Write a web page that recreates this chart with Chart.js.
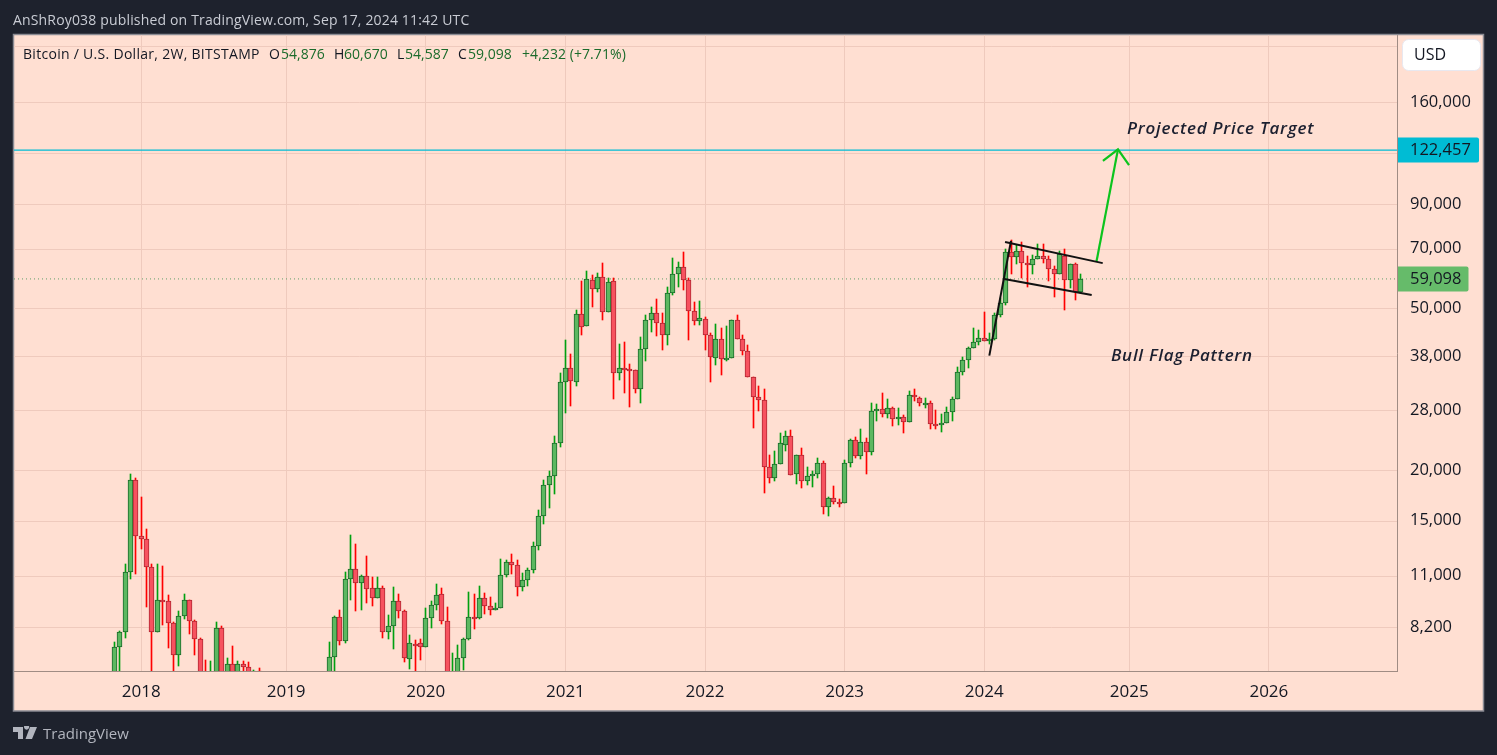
<!DOCTYPE html>
<html><head><meta charset="utf-8">
<script src="https://cdn.jsdelivr.net/npm/chart.js@4"></script>
<style>
html,body{margin:0;padding:0;background:#1e222d;width:1497px;height:755px;overflow:hidden}
canvas{position:absolute;left:0;top:0}
.t{position:absolute;white-space:nowrap;font-family:"Open Sans",sans-serif;line-height:18px}
</style></head><body>
<canvas id="c" width="1497" height="755"></canvas>
<div class="t" style="left:13px;top:11px;font-size:14px;letter-spacing:.165px;color:#c9ccd4">AnShRoy038 published on TradingView.com, Sep 17, 2024 11:42 UTC</div>
<div class="t" style="left:23px;top:45px;font-size:14px;letter-spacing:.29px;color:#131722">Bitcoin / U.S. Dollar, 2W, BITSTAMP</div>
<div class="t" style="left:269px;top:45px;font-size:14px;color:#131722">O</div>
<div class="t" style="left:281px;top:45px;font-size:14px;color:#1b6b2b">54,876</div>
<div class="t" style="left:334px;top:45px;font-size:14px;color:#131722">H</div>
<div class="t" style="left:344px;top:45px;font-size:14px;color:#1b6b2b">60,670</div>
<div class="t" style="left:397px;top:45px;font-size:14px;color:#131722">L</div>
<div class="t" style="left:405px;top:45px;font-size:14px;color:#1b6b2b">54,587</div>
<div class="t" style="left:458px;top:45px;font-size:14px;color:#131722">C</div>
<div class="t" style="left:468px;top:45px;font-size:14px;color:#1b6b2b">59,098</div>
<div class="t" style="left:522px;top:45px;font-size:14px;letter-spacing:.07px;color:#1b6b2b">+4,232 (+7.71%)</div>
<svg style="position:absolute;left:13px;top:726px" width="25" height="14" viewBox="0 0 25 14"><path fill="#b2b5be" d="M0 1h10v12H5V6H0zM11 1a2.6 2.6 0 1 1 0 .01zM17 1h7l-5 12h-6.5z"/></svg>
<div class="t" style="left:43px;top:724px;font-size:15px;color:#b2b5be">TradingView</div>
<script>
const opens=[5700,7350,8005,11242,18918,13819,13578,11593,8032,9594,9539,8417,7023,8756,9594,8517,7683,6300,6200,6350,8177,6350,6674,6350,6674,6557,6400,6415,
6300,5600,4000,3500,3800,3650,3450,3900,3850,4050,5300,5700,
6000,6941,8705,7603,10791,11416,10559,10983,10254,9723,10254,8032,8274,9539,9013,6870,7487,7517,7346,8653,9322,9923,8517,5400,6200,6900,7683,8705,8670,9723,9276,9065,9160,11048,11893,11690,10316,10742,11370,13008,15419,18381,19334,23326,32936,35620,32936,48385,45180,58660,55670,59640,48950,58320,34650,35620,35450,35250,31615,39650,46780,48660,45990,42970,54500,60680,63100,58660,49230,46520,47050,42970,37730,41950,37690,37780,46780,41990,39260,33850,30250,29760,20420,19180,20710,23070,24250,19570,21780,18810,19334,19570,20830,16220,17070,16700,16610,20830,23730,21730,23460,22160,27960,28280,27480,28450,26720,27030,26270,30600,30060,29250,29310,26020,25830,26120,27790,29930,34910,37300,39900,41310,42200,41550,41990,48100,51500,68740,67000,69130,64620,63890,66070,67430,66300,62440,60680,67430,58660,64290,54876];
const highs=[7575,8064,11778,19597,19150,17200,14340,11778,11778,11641,9885,8483,9030,9940,9594,8580,7745,6826,6800,8483,8290,6912,7400,6800,6800,6763,6460,6532,
6390,5700,4200,4200,4100,3700,4000,4100,4100,5400,5800,6400,
7574,8771,9080,11261,13880,13185,11070,12317,10936,10936,10394,8826,10334,9940,9080,7883,7660,7700,9177,9555,10517,10276,9230,7117,7445,7745,10055,9940,10394,9997,9767,9447,12100,12050,12463,12050,11197,11505,13340,15990,18950,19940,24295,34710,41850,38650,49590,58430,61840,60450,61140,64690,59430,59430,40900,41380,36525,35250,42530,48190,50400,52790,48750,56430,66500,65200,68850,59430,51890,52190,47660,43530,45800,44800,45340,46900,48190,43030,40680,33900,32240,31720,21830,22320,24730,25010,25150,21800,22700,20390,19940,21440,21100,17200,18320,17000,21220,23900,24170,25290,24040,29300,29140,31010,29980,28630,28450,27380,31360,31720,30320,30150,29640,28170,27540,28630,30320,35900,38000,40240,44780,44280,49030,43530,48750,53060,70030,73700,71700,72850,67300,67660,72030,72030,67300,63600,69250,70030,64400,64500,60670];
const lows=[5500,6100,7758,10830,11132,12829,9245,6000,8032,8352,7323,6400,6621,8617,7940,7047,6100,5800,6000,6100,6000,6250,6150,6250,6350,6200,6250,5900,
5100,3700,3200,3400,3500,3400,3350,3700,3800,4000,5000,5200,
5800,6300,7445,7530,9610,9030,9080,9447,9284,9723,7745,7700,7270,8671,6763,6507,6380,6840,7346,8194,9080,8386,4000,5100,5900,6470,7660,8143,8620,8875,8826,9065,9160,10936,11132,9825,10113,10394,11197,12750,14768,16160,17505,22800,27740,28800,32240,43040,45180,50400,54910,46860,48950,29930,33370,31010,28620,31010,29300,37160,43780,42780,39550,40700,53960,56430,55530,41850,45550,45550,39550,33000,36320,34320,37160,37700,41990,38430,33850,25420,28010,17610,18660,18840,20710,22320,19450,18530,18100,18420,18210,19160,15630,15440,16540,16250,16610,20390,21460,21340,19600,21830,26470,27060,26900,25760,25900,24730,26270,29640,28800,28450,25290,25290,24870,26100,26470,29900,34320,35700,39900,40680,41550,41000,41900,47660,50900,60830,64330,59430,56430,60800,66000,64690,58430,53370,60600,49590,56150,52480,54587];
const closes=[7357,8005,11242,18918,13819,13578,11593,8032,9594,9539,8417,7023,8756,9594,8517,7683,6300,6200,6350,8177,6350,6674,6350,6674,6557,6400,6415,6300,
5600,4000,3500,3800,3650,3450,3900,3850,4050,5300,5700,6000,
6941,8705,7603,10791,11416,10559,10983,10233,9723,10254,8032,8274,9539,9013,6900,7517,7445,7346,8653,9322,9865,8517,5400,6200,6900,7683,8705,8670,9693,9276,9065,9160,11048,11893,11690,10316,10742,11370,13008,15419,18381,19334,23326,32936,35620,33124,48385,45080,58920,55670,59640,48950,58000,34650,35620,35450,35250,31615,39650,46780,48660,45990,42970,54500,60680,63100,58660,49230,46520,47260,42970,37920,41950,37470,37780,46780,41990,39260,33850,30250,29760,20420,19180,20710,23340,24250,19450,21780,18810,19334,19570,20830,16220,17070,16700,16610,20830,23730,21730,23460,22160,27960,28280,27480,28450,26720,27030,26270,30600,30250,29250,29310,25970,25830,26120,27790,29930,34910,37370,39900,41310,42200,41550,41990,48100,51500,68740,66760,69130,64620,63890,66070,67430,66300,62440,60680,67950,58660,64290,54820,59098];
const yearLabels=['2018','2019','2020','2021','2022','2023','2024','2025','2026'];
const yearCandle=[5,32,58,84,110,136,162,189,215];
const priceTicks=[220000,160000,120000,90000,70000,50000,38000,28000,20000,15000,11000,8200];
const hiddenPriceTicks=[220000,120000];
const targetPrice=122457;
const lastPrice=59098;
const flagPole=[[162.94,38280],[166.98,73300]];
const flagUpper=[[165.87,72870],[184.06,64620]];
const flagLower=[[165.73,59090],[182.01,53940]];
const arrowShaft=[[182.9,65250],[186.9,123000]];
const arrowHead=[[184.1,115200],[186.9,123000],[188.96,112600]];
const notes=[{text:'Projected Price Target',x:188.6,y:138100},{text:'Bull Flag Pattern',x:185.6,y:38100}];
const xMin=-18.68,xMax=238.86,yMin=6427,yMax=235000;

const up='#5cb860',upB='#1a6b2a',upW='#00a010',dn='#f7525f',dnB='#b22833',dnW='#ff0000';
const isUp=opens.map((o,i)=>closes[i]>=o);
const pts=a=>a.map(p=>({x:p[0],y:p[1]}));
const line=(d,color,w,extra)=>Object.assign({type:'line',data:pts(d),borderColor:color,borderWidth:w,pointRadius:0,order:1,tension:0},extra||{});
const FONT='"Open Sans",sans-serif';

const frame={id:'frame',
 beforeDraw(c){const g=c.ctx;g.save();g.fillStyle='#1e222d';g.fillRect(0,0,1497,755);
  g.fillStyle='#ffdfd2';g.fillRect(14,35,1469,676);
  g.strokeStyle='#8a8b93';g.lineWidth=1.5;g.strokeRect(13.5,34.5,1470,676.5);g.restore();},
 beforeDatasetsDraw(c){c.data.datasets.forEach((d,i)=>{if(d.type==='line')return;c.getDatasetMeta(i).data.forEach(el=>{
   el.x=Math.floor(el.x)+.5;
   let t=Math.round(el.y),b=Math.round(el.base);
   if(Math.abs(b-t)<1){b=t+1;}
   if(d.isBody&&Math.abs(b-t)<2){b=t+2;}
   el.y=t;el.base=b;el.height=b-t;});});},
 afterDraw(c){const g=c.ctx,s=c.scales.y,X=c.scales.x;g.save();
  g.fillStyle='#fff';g.strokeStyle='#e8e8f0';g.lineWidth=1;g.beginPath();g.roundRect(1402.5,39.5,78,31,6);g.fill();g.stroke();
  g.font='16px '+FONT;g.fillStyle='#131722';g.textBaseline='middle';g.textAlign='left';g.fillText('USD',1414,55);
  const badge=(v,col,r,txt)=>{const y=s.getPixelForValue(v);g.fillStyle=col;g.beginPath();g.roundRect(1398,Math.round(y)-12.5,r-1398,25,[0,2,2,0]);g.fill();
   g.fillStyle='#131722';g.font='500 16.5px '+FONT;g.fillText(txt,1410,y);};
  badge(targetPrice,'#00bcd4',1479,targetPrice.toLocaleString('en-US'));
  badge(lastPrice,'#66bb6a',1468.5,lastPrice.toLocaleString('en-US'));
  g.fillStyle='#1c2030';g.font='italic 600 17px '+FONT;g.letterSpacing='0.75px';
  notes.forEach(n=>g.fillText(n.text,X.getPixelForValue(n.x),s.getPixelForValue(n.y)));
  g.restore();}};

new Chart(document.getElementById('c'),{
 type:'bar',
 plugins:[frame],
 data:{datasets:[
  line(flagPole,'#111',2),line(flagUpper,'#111',2),line(flagLower,'#111',2),
  line(arrowShaft,'#0cc41e',2.2),line(arrowHead,'#0cc41e',2.2),
  line([[xMin,targetPrice],[xMax,targetPrice]],'#00bcd4',1.2,{order:2}),
  line([[xMin,lastPrice],[xMax,lastPrice]],'#5e9e68',1,{order:6,borderDash:[1,3]}),
  {type:'bar',label:'bodies',isBody:true,order:3,grouped:false,barThickness:5,borderWidth:1,borderSkipped:false,
   data:opens.map((o,i)=>({x:i,y:[o,closes[i]]})),
   backgroundColor:isUp.map(u=>u?up:dn),borderColor:isUp.map(u=>u?upB:dnB)},
  {type:'bar',label:'wicks',order:4,grouped:false,barThickness:1,borderWidth:0,
   data:lows.map((l,i)=>({x:i,y:[l,highs[i]]})),
   backgroundColor:isUp.map(u=>u?upW:dnW)}
 ]},
 options:{responsive:false,animation:false,events:[],devicePixelRatio:1,
  layout:{padding:{left:14,top:35,right:14,bottom:44}},
  plugins:{legend:{display:false},tooltip:{enabled:false}},
  scales:{
   x:{type:'linear',min:xMin,max:xMax,bounds:'data',offset:false,
    afterBuildTicks(a){a.ticks=yearCandle.map(v=>({value:v}));},
    afterFit(a){a.height=40;},
    grid:{offset:false,color:'#efcabd',drawTicks:false,lineWidth:1},border:{display:true,color:'#a08c84',width:1},
    ticks:{autoSkip:false,maxRotation:0,padding:11,color:'#131722',font:{family:FONT,size:17,weight:500},
     callback(v){return yearLabels[yearCandle.indexOf(v)];}}},
   y:{type:'logarithmic',position:'right',min:yMin,max:yMax,bounds:'data',
    afterBuildTicks(a){a.ticks=priceTicks.map(v=>({value:v}));},
    afterFit(a){a.width=86;},
    grid:{color:'#efcabd',drawTicks:false,lineWidth:1},border:{display:true,color:'#a08c84',width:1},
    ticks:{autoSkip:false,padding:13,labelOffset:-0.5,color:'#131722',font:{family:FONT,size:16.5,weight:500},
     callback(v){return hiddenPriceTicks.includes(v)?'':v.toLocaleString('en-US');}}}
  }}
});
</script></body></html>
